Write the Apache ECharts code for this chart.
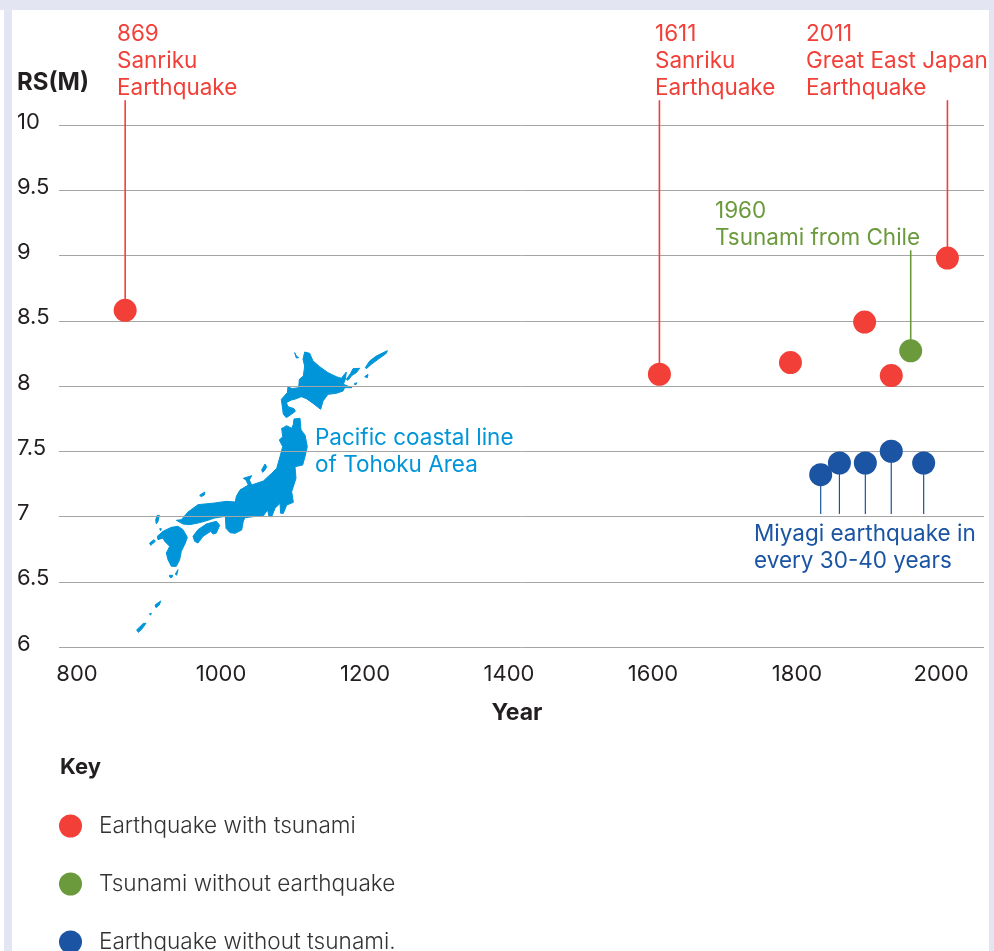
<!DOCTYPE html>
<html>
<head>
<meta charset="utf-8">
<style>
  html, body { margin: 0; padding: 0; background: #fff; }
  #chart { width: 994px; height: 951px; }
</style>
<script src="https://cdn.jsdelivr.net/npm/echarts@6/dist/echarts.min.js"></script>
</head>
<body>
<div id="chart"></div>
<script>
// Magnitude of major earthquakes off the Tohoku coast, by year
const yTicks = [6, 6.5, 7, 7.5, 8, 8.5, 9, 9.5, 10];
const xTicks = [800, 1000, 1200, 1400, 1600, 1800, 2000];

const withTsunami = [[869, 8.58], [1611, 8.09], [1793, 8.18], [1896, 8.49], [1933, 8.08], [2011, 8.98]];
const tsunamiOnly = [[1960, 8.27]];
const noTsunami = [[1835, 7.32], [1861, 7.41], [1897, 7.41], [1933, 7.5], [1978, 7.41]];

// Leader lines: [year, start, end] in axis units
const redLeaders = [[869, 8.58, 10.19], [1611, 8.09, 10.19], [2011, 8.98, 10.19]];
const greenLeaders = [[1960, 8.27, 9.04]];
const blueLeaders = [[1835, 7.32, 7.02], [1861, 7.41, 7.02], [1897, 7.41, 7.02], [1933, 7.5, 7.02], [1978, 7.41, 7.02]];

const RED = '#F23F38', GREEN = '#6B9A3D', BLUE = '#1A54A3', CYAN = '#0095D8', INK = '#231F20';
const FONT = 'Inter, Roboto, sans-serif';
const FS = 22.5;

const leaderSeries = (rows, color, width) => rows.map(([year, a, b]) => ({
  type: 'line', data: [[year, a], [year, b]], symbol: 'none', silent: true, clip: false, z: 1,
  itemStyle: { color }, lineStyle: { color, width, opacity: 1 }, tooltip: { show: false }
}));
const dotSeries = (name, data, color) => ({
  name, type: 'scatter', data, symbol: 'circle', symbolSize: 23, z: 3,
  itemStyle: { color, opacity: 1 }
});
const note = (x, y, text, fill) => ({
  type: 'text', x, y, z: 5,
  style: { text, fill, font: `${FS}px ${FONT}`, lineHeight: 27, textVerticalAlign: 'top' }
});
const boldText = (x, y, text, size) => ({
  type: 'text', x, y, z: 5,
  style: { text, fill: INK, font: `bold ${size}px ${FONT}`, lineHeight: 27, textVerticalAlign: 'top' }
});
const island = points => ({
  type: 'polygon', shape: { points },
  style: { fill: CYAN, stroke: CYAN, lineWidth: 3, lineJoin: 'round' }
});

// Outline of the Japanese archipelago, drawn at three times its final size
const japan = [
  // Hokkaido and the Kurils
  [[554,36],[569,40],[579,63],[599,80],[624,98],[649,110],[664,115],[679,96],[676,118],[670,133],[696,143],[674,143],[669,153],[649,160],[624,163],[609,183],[602,208],[579,190],[559,176],[544,170],[524,178],[514,180],[499,188],[504,200],[522,206],[526,214],[514,223],[499,233],[490,223],[484,178],[502,158],[504,140],[516,146],[536,143],[538,118],[550,108],[554,78],[549,58]],
  [[679,118],[692,100],[699,86],[719,85],[709,98],[696,106],[684,121]],
  [[736,83],[749,63],[769,48],[802,32],[799,40],[774,58],[754,73],[739,86]],
  [[734,110],[744,103],[742,113]],
  [[524,38],[529,48],[536,53],[529,54]],
  [[702,132],[710,128],[708,134]],
  // Honshu
  [[490,263],[500,257],[515,265],[520,253],[522,237],[540,235],[543,270],[555,285],[562,320],[555,350],[548,375],[525,380],[528,415],[515,455],[520,487],[500,495],[490,520],[482,520],[480,490],[465,505],[455,530],[447,530],[443,510],[430,527],[400,530],[375,533],[370,543],[365,570],[345,580],[330,578],[318,565],[316,529],[284,534],[254,544],[234,549],[209,554],[189,552],[169,541],[184,539],[204,516],[234,494],[284,489],[319,484],[346,486],[349,469],[360,450],[385,435],[378,420],[370,415],[395,407],[388,420],[395,435],[430,423],[455,400],[470,385],[480,350],[488,320],[478,300],[488,290],[485,265]],
  [[425,390],[435,372],[440,380],[435,390],[428,397]],
  // Shikoku
  [[219,589],[234,569],[259,552],[289,544],[299,556],[289,579],[279,582],[272,574],[249,589],[234,609],[224,604]],
  // Kyushu and the smaller southern islands
  [[112,589],[129,574],[154,562],[174,559],[189,569],[202,592],[196,609],[184,634],[179,659],[169,679],[154,679],[144,659],[139,639],[149,619],[134,604],[129,594],[114,599]],
  [[112,526],[118,526],[114,544],[109,552],[107,539]],
  [[89,609],[102,599],[106,604],[92,616]],
  [[119,566],[124,566],[122,572]],
  [[239,466],[254,456],[254,464],[244,470]],
  [[166,702],[174,689],[170,706]],
  [[148,706],[158,706],[156,712],[150,712]],
  [[50,870],[70,850],[78,850],[65,868],[55,877]],
  [[105,795],[122,783],[118,795],[108,803]],
  [[88,822],[94,820],[92,825]]
];

const chart = echarts.init(document.getElementById('chart'), null, { renderer: 'canvas' });
chart.setOption({
  animation: false,
  backgroundColor: '#fff',
  textStyle: { fontFamily: FONT },
  grid: { left: 59, right: 10, top: 125, bottom: 304 },
  xAxis: {
    type: 'value', min: 777.1, max: 2061.8,
    name: 'Year', nameLocation: 'middle', nameGap: 55,
    nameTextStyle: { color: INK, fontSize: 23, fontWeight: 'bold', fontFamily: FONT, padding: [0, 9, 0, 0] },
    axisLine: { show: false }, axisTick: { show: false }, splitLine: { show: false },
    axisLabel: {
      customValues: xTicks, color: INK, fontSize: 22, fontFamily: FONT, margin: 16,
      padding: [0, 0, 0, 3], formatter: v => String(v)
    }
  },
  yAxis: {
    type: 'value', min: yTicks[0], max: yTicks[yTicks.length - 1], interval: 0.5,
    axisLine: { show: false }, axisTick: { show: false },
    splitLine: { lineStyle: { color: '#A5A5A5', width: 1 } },
    axisLabel: {
      color: INK, fontSize: 22, fontFamily: FONT, align: 'left', margin: 42,
      verticalAlign: 'bottom', lineHeight: 6
    }
  },
  legend: {
    data: ['Earthquake with tsunami', 'Tsunami without earthquake', 'Earthquake without tsunami.'],
    orient: 'vertical', left: 59, top: 814.5, padding: 0, height: 180,
    icon: 'circle', itemWidth: 23, itemHeight: 23, itemGap: 35,
    selectedMode: false,
    textStyle: { color: '#333', fontSize: 22.6, fontWeight: 300, fontFamily: FONT, padding: [0, 0, 0, 12] }
  },
  graphic: [
    { type: 'rect', shape: { x: 0, y: 0, width: 994, height: 10 }, style: { fill: '#E3E5F2' }, z: -1 },
    { type: 'rect', shape: { x: 4, y: 0, width: 8, height: 951 }, style: { fill: '#E3E5F2' }, z: -1 },
    { type: 'rect', shape: { x: 989, y: 0, width: 5, height: 951 }, style: { fill: '#E3E5F2' }, z: -1 },
    { type: 'group', x: 120, y: 340, scaleX: 1 / 3, scaleY: 1 / 3, z: 2, children: japan.map(island) },
    note(117, 21, '869\nSanriku\nEarthquake', RED),
    note(655, 21, '1611\nSanriku\nEarthquake', RED),
    note(806, 21, '2011\nGreat East Japan\nEarthquake', RED),
    note(715, 198, '1960\nTsunami from Chile', GREEN),
    note(315, 425, 'Pacific coastal line\nof Tohoku Area', CYAN),
    note(754, 521, 'Miyagi earthquake in\nevery 30-40 years', BLUE),
    boldText(17, 69, 'RS(M)', 24),
    boldText(60, 754, 'Key', 22)
  ],
  series: [
    ...leaderSeries(redLeaders, RED, 1.6),
    ...leaderSeries(greenLeaders, GREEN, 1.6),
    ...leaderSeries(blueLeaders, BLUE, 1.2),
    dotSeries('Earthquake with tsunami', withTsunami, RED),
    dotSeries('Tsunami without earthquake', tsunamiOnly, GREEN),
    dotSeries('Earthquake without tsunami.', noTsunami, BLUE)
  ]
});
</script>
</body>
</html>
